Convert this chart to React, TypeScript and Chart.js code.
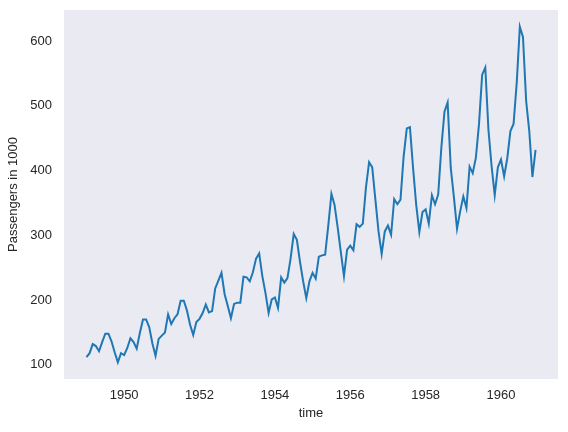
import React, { useEffect, useRef } from "react";
import { Chart, registerables } from "chart.js";

Chart.register(...registerables);

const startYear = 1949;
const p1949 = [112, 118, 132, 129, 121, 135, 148, 148, 136, 119, 104, 118];
const p1950 = [115, 126, 141, 135, 125, 149, 170, 170, 158, 133, 114, 140];
const p1951 = [145, 150, 178, 163, 172, 178, 199, 199, 184, 162, 146, 166];
const p1952 = [171, 180, 193, 181, 183, 218, 230, 242, 209, 191, 172, 194];
const p1953 = [196, 196, 236, 235, 229, 243, 264, 272, 237, 211, 180, 201];
const p1954 = [204, 188, 235, 227, 234, 264, 302, 293, 259, 229, 203, 229];
const p1955 = [242, 233, 267, 269, 270, 315, 364, 347, 312, 274, 237, 278];
const p1956 = [284, 277, 317, 313, 318, 374, 413, 405, 355, 306, 271, 306];
const p1957 = [315, 301, 356, 348, 355, 422, 465, 467, 404, 347, 305, 336];
const p1958 = [340, 318, 362, 348, 363, 435, 491, 505, 404, 359, 310, 337];
const p1959 = [360, 342, 406, 396, 420, 472, 548, 559, 463, 407, 362, 405];
const p1960 = [417, 391, 419, 461, 472, 535, 622, 606, 508, 461, 390, 432];

const xTicks = [1950, 1952, 1954, 1956, 1958, 1960];
const yTicks = [100, 200, 300, 400, 500, 600];

const allYears = [p1949, p1950, p1951, p1952, p1953, p1954, p1955, p1956, p1957, p1958, p1959, p1960];

export default function App() {
  const ref = useRef<HTMLCanvasElement>(null);
  useEffect(() => {
    const values = allYears.flat();
    const points = values.map((v, i) => ({ x: startYear + i / 12, y: v }));
    const xMinD = points[0].x;
    const xMaxD = points[points.length - 1].x;
    const yMinD = Math.min(...values);
    const yMaxD = Math.max(...values);
    const xm = (xMaxD - xMinD) * 0.05;
    const ym = (yMaxD - yMinD) * 0.05;
    const font = { family: "'Liberation Sans', Arial, sans-serif", size: 13 };
    const textColor = "#262626";
    const bgPlugin = {
      id: "bg",
      beforeDraw(chart: any) {
        const { ctx, chartArea } = chart;
        ctx.save();
        ctx.fillStyle = "#EAEAF2";
        ctx.fillRect(chartArea.left, chartArea.top, chartArea.right - chartArea.left, chartArea.bottom - chartArea.top);
        ctx.restore();
      },
    };
    const chart = new Chart(ref.current!, {
      type: "line",
      data: {
        datasets: [
          {
            data: points,
            borderColor: "#1f77b4",
            borderWidth: 2,
            pointRadius: 0,
            tension: 0,
            fill: false,
          },
        ],
      },
      options: {
        animation: false,
        responsive: false,
        devicePixelRatio: 1,
        layout: { padding: { left: 0, top: 10, right: 10, bottom: 0 } },
        plugins: { legend: { display: false }, tooltip: { enabled: false } },
        scales: {
          x: {
            type: "linear",
            min: xMinD - xm,
            max: xMaxD + xm,
            grid: { display: false, drawTicks: false },
            border: { display: false },
            afterBuildTicks: (s: any) => {
              s.ticks = xTicks.map((v) => ({ value: v }));
            },
            afterFit: (s: any) => {
              s.height = 53;
              s.paddingLeft = 0;
              s.paddingRight = 0;
            },
            ticks: { font, color: textColor, padding: 9, maxRotation: 0, callback: (v: any) => String(v) },
            title: { display: true, text: "time", font, color: textColor, padding: { top: 0, bottom: 11 } },
          },
          y: {
            type: "linear",
            min: yMinD - ym,
            max: yMaxD + ym,
            grid: { display: false, drawTicks: false },
            border: { display: false },
            afterBuildTicks: (s: any) => {
              s.ticks = yTicks.map((v) => ({ value: v }));
            },
            afterFit: (s: any) => {
              s.width = 64;
              s.paddingTop = 0;
              s.paddingBottom = 0;
            },
            ticks: { font, color: textColor, padding: 12, callback: (v: any) => String(v) },
            title: { display: true, text: "Passengers in 1000", font, color: textColor, padding: { top: 6, bottom: 0 } },
          },
        },
      },
      plugins: [bgPlugin],
    });
    return () => chart.destroy();
  }, []);
  return (
    <div style={{ position: "fixed", left: 0, top: 0, width: 568, height: 432, background: "#fff" }}>
      <canvas ref={ref} width={568} height={432} style={{ width: 568, height: 432 }} />
    </div>
  );
}
